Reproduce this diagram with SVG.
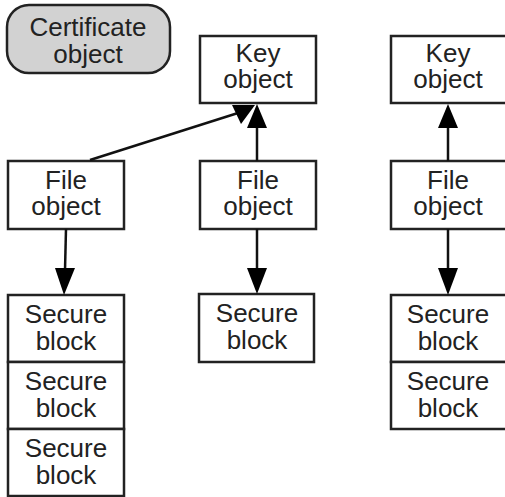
<svg xmlns="http://www.w3.org/2000/svg" width="505" height="497" viewBox="0 0 505 497">
<style>
.box{fill:#fff;stroke:#222;stroke-width:2.5}
.cert{fill:#d2d2d2;stroke:#222;stroke-width:2.5}
text{font-family:"Liberation Sans",Arial,sans-serif;font-size:26px;fill:#222;text-anchor:middle}
.conn line{stroke:#111;stroke-width:2.5}
.conn polygon{fill:#000}
</style>
<rect width="505" height="497" fill="#fff"/>
<g id="certificate">
<rect class="cert" x="7" y="5" width="163" height="68" rx="22"/>
<text x="88" y="36">Certificate</text><text x="88" y="63">object</text>
</g>
<g id="key1">
<rect class="box" x="200" y="36" width="116" height="67"/>
<text x="258" y="62">Key</text><text x="258" y="88">object</text>
</g>
<g id="key2">
<rect class="box" x="391" y="36" width="116" height="67"/>
<text x="448" y="62">Key</text><text x="448" y="88">object</text>
</g>
<g id="file1">
<rect class="box" x="8" y="161" width="116" height="68"/>
<text x="66" y="189">File</text><text x="66" y="215">object</text>
</g>
<g id="file2">
<rect class="box" x="200" y="161" width="116" height="68"/>
<text x="258" y="189">File</text><text x="258" y="215">object</text>
</g>
<g id="file3">
<rect class="box" x="391" y="161" width="116" height="68"/>
<text x="448" y="189">File</text><text x="448" y="215">object</text>
</g>
<g id="secure1a">
<rect class="box" x="8" y="295" width="116" height="67"/>
<text x="66" y="323">Secure</text><text x="66" y="350">block</text>
</g>
<g id="secure1b">
<rect class="box" x="8" y="362" width="116" height="67"/>
<text x="66" y="390">Secure</text><text x="66" y="417">block</text>
</g>
<g id="secure1c">
<rect class="box" x="8" y="429" width="116" height="67"/>
<text x="66" y="457">Secure</text><text x="66" y="484">block</text>
</g>
<g id="secure2">
<rect class="box" x="199" y="294" width="115" height="68"/>
<text x="257" y="322">Secure</text><text x="257" y="349">block</text>
</g>
<g id="secure3a">
<rect class="box" x="391" y="295" width="116" height="67"/>
<text x="448" y="323">Secure</text><text x="448" y="350">block</text>
</g>
<g id="secure3b">
<rect class="box" x="391" y="362" width="116" height="67"/>
<text x="448" y="390">Secure</text><text x="448" y="417">block</text>
</g>
<g id="connectors" class="conn">
<line x1="90" y1="160" x2="238" y2="113"/>
<polygon points="255,105 232,105 241,124"/>
<line x1="257" y1="161" x2="257" y2="126"/>
<polygon points="257,104 247,128 267,128"/>
<line x1="448" y1="161" x2="448" y2="126"/>
<polygon points="448,104 438,128 458,128"/>
<line x1="66" y1="229" x2="65" y2="270"/>
<polygon points="64,295 55,268 75,268"/>
<line x1="257" y1="229" x2="257" y2="270"/>
<polygon points="257,294 247,268 267,268"/>
<line x1="448" y1="229" x2="448" y2="270"/>
<polygon points="448,295 438,268 458,268"/>
</g>
</svg>
